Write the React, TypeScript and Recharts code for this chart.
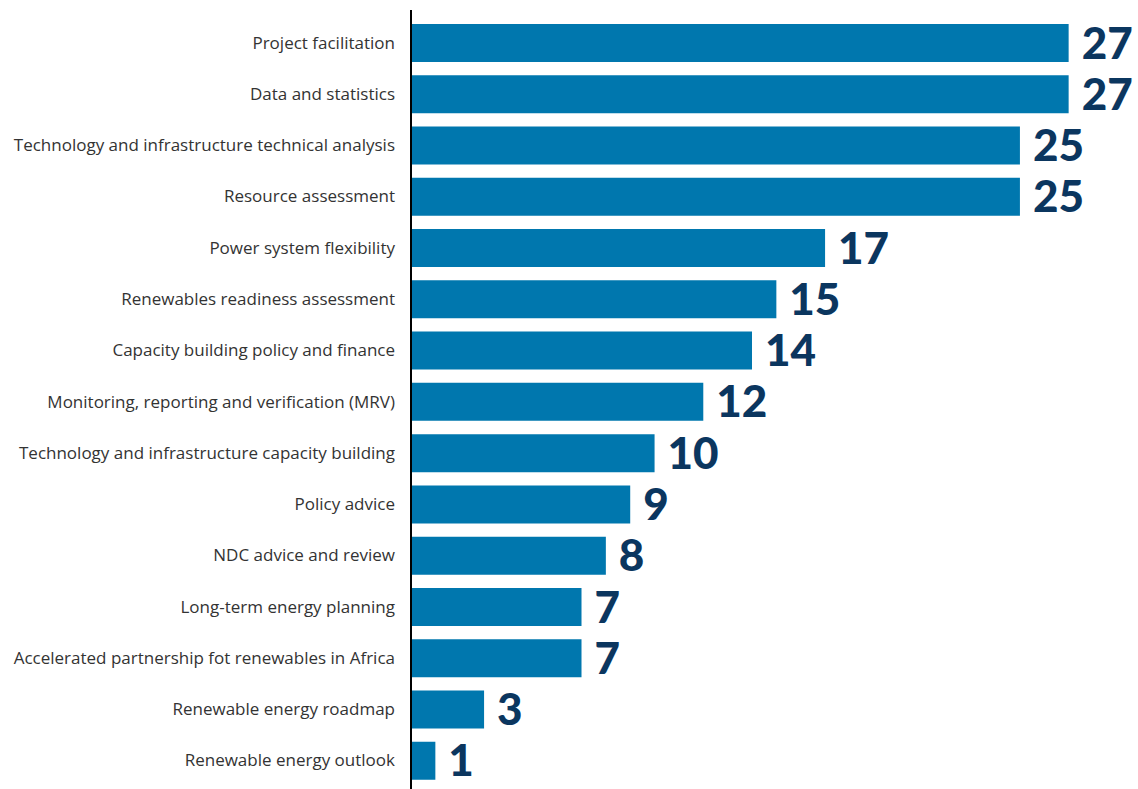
import React from "react";
import { BarChart, Bar, XAxis, YAxis, LabelList } from "recharts";

const categories = [
  "Project facilitation",
  "Data and statistics",
  "Technology and infrastructure technical analysis",
  "Resource assessment",
  "Power system flexibility",
  "Renewables readiness assessment",
  "Capacity building policy and finance",
  "Monitoring, reporting and verification (MRV)",
  "Technology and infrastructure capacity building",
  "Policy advice",
  "NDC advice and review",
  "Long-term energy planning",
  "Accelerated partnership fot renewables in Africa",
  "Renewable energy roadmap",
  "Renewable energy outlook",
];

const counts = [27, 27, 25, 25, 17, 15, 14, 12, 10, 9, 8, 7, 7, 3, 1];

const data = categories.map((name, i) => ({ name, value: counts[i] }));

const App = () => {
  return (
    <div style={{ position: "absolute", left: 0, top: 0 }}>
      <BarChart
        width={1138}
        height={789}
        data={data}
        layout="vertical"
        margin={{ top: 10, right: 45, left: 0, bottom: 0 }}
      >
        <XAxis type="number" domain={[0, 28]} hide />
        <YAxis
          type="category"
          dataKey="name"
          width={411}
          interval={0}
          tickSize={0}
          tickMargin={16}
          padding={{ top: 7, bottom: 3 }}
          axisLine={{ stroke: "#000000", strokeWidth: 2 }}
          tickLine={false}
          tick={{ fill: "#333333", fontSize: 17, fontFamily: "Open Sans" }}
        />
        <Bar dataKey="value" fill="#0077AE" barSize={38} isAnimationActive={false}>
          <LabelList
            dataKey="value"
            position="right"
            offset={13}
            style={{
              fill: "#0B365F",
              fontSize: 44,
              fontWeight: 900,
              fontFamily: "Lato",
            }}
          />
        </Bar>
      </BarChart>
    </div>
  );
};

export default App;
